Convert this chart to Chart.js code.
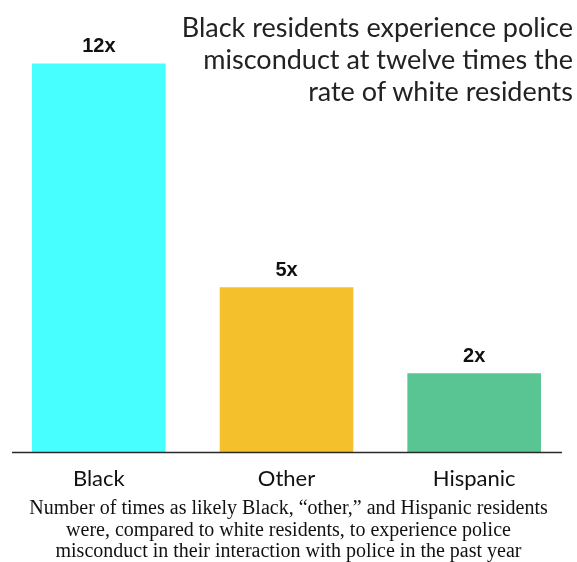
<!DOCTYPE html>
<html>
<head>
<meta charset="utf-8">
<script src="https://cdn.jsdelivr.net/npm/chart.js@4"></script>
<style>
  html, body { margin: 0; padding: 0; background: #fff; }
  #wrap { position: relative; width: 577px; height: 562px; overflow: hidden; }
  #chartBox { position: absolute; left: 0; top: 0; width: 577px; height: 505px; }
  #title { position: absolute; right: 4px; top: 11px; text-align: right;
    font-family: Lato, "Open Sans", sans-serif; font-size: 27px; line-height: 32px; color: #222; white-space: nowrap; }
  #caption { position: absolute; left: 0; top: 497px; width: 577px; text-align: center;
    font-family: "Liberation Serif", "DejaVu Serif", serif; font-size: 20px; line-height: 21.5px; color: #111; white-space: nowrap; }
</style>
</head>
<body>
<div id="wrap">
  <div id="chartBox"><canvas id="c"></canvas></div>
  <div id="title">Black residents experience police<br>misconduct at twelve times the<br>rate of white residents</div>
  <div id="caption">Number of times as likely Black, “other,” and Hispanic residents<br>were, compared to white residents, to experience police<br>misconduct in their interaction with police in the past year</div>
</div>
<script>
const categories = ["Black", "Other", "Hispanic"];
const values = [12, 5.1, 2.45];
const valueLabels = ["12x", "5x", "2x"];
const barColors = ["#47FFFF", "#F4C12D", "#59C593"];

const valueLabelPlugin = {
  id: "valueLabels",
  afterDatasetsDraw(chart) {
    const ctx = chart.ctx;
    const meta = chart.getDatasetMeta(0);
    ctx.save();
    ctx.font = "bold 20px 'Liberation Sans', Arial, sans-serif";
    ctx.fillStyle = "#111";
    ctx.textAlign = "center";
    ctx.textBaseline = "middle";
    meta.data.forEach((bar, i) => {
      ctx.fillText(valueLabels[i], bar.x, bar.y - 17);
    });
    ctx.restore();
  }
};

const baselinePlugin = {
  id: "baseline",
  afterDatasetsDraw(chart) {
    const ctx = chart.ctx;
    const area = chart.chartArea;
    const y = chart.scales.y.getPixelForValue(0);
    ctx.save();
    ctx.strokeStyle = "#2a2a2a";
    ctx.lineWidth = 1.5;
    ctx.beginPath();
    ctx.moveTo(area.left + 7, y);
    ctx.lineTo(area.right - 6, y);
    ctx.stroke();
    ctx.restore();
  }
};

new Chart(document.getElementById("c"), {
  type: "bar",
  data: {
    labels: categories,
    datasets: [{
      data: values,
      backgroundColor: barColors,
      borderWidth: 0,
      categoryPercentage: 1.0,
      barPercentage: 0.712
    }]
  },
  options: {
    responsive: true,
    maintainAspectRatio: false,
    animation: false,
    layout: { padding: { top: 15, left: 5, right: 9, bottom: 0 } },
    plugins: { legend: { display: false }, tooltip: { enabled: false }, title: { display: false } },
    scales: {
      y: { display: false, min: 0, max: 13.5 },
      x: {
        grid: { display: false, drawTicks: false },
        border: { display: false },
        ticks: {
          padding: 13,
          color: "#111",
          font: { family: "Lato, 'Open Sans', sans-serif", size: 22 }
        }
      }
    }
  },
  plugins: [valueLabelPlugin, baselinePlugin]
});
</script>
</body>
</html>
